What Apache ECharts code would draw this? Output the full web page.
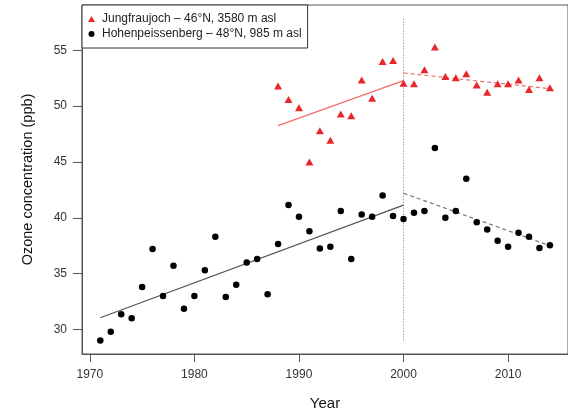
<!DOCTYPE html>
<html>
<head>
<meta charset="utf-8">
<script src="https://cdn.jsdelivr.net/npm/echarts@6/dist/echarts.min.js"></script>
<style>html,body{margin:0;padding:0;background:#fff}#c{width:568px;height:416px}</style>
</head>
<body>
<div id="c"></div>
<script>
// Hohenpeissenberg (black circles)
var hpYears = [1971,1972,1973,1974,1975,1976,1977,1978,1979,1980,
               1981,1982,1983,1984,1985,1986,1987,1988,1989,1990,
               1991,1992,1993,1994,1995,1996,1997,1998,1999,2000,
               2001,2002,2003,2004,2005,2006,2007,2008,2009,2010,
               2011,2012,2013,2014];
var hpValues = [29.0,29.8,31.35,31.0,33.8,37.2,33.0,35.7,31.85,33.0,
                35.3,38.3,32.9,34.0,36.0,36.3,33.15,37.65,41.15,40.1,
                38.8,37.25,37.4,40.6,36.3,40.3,40.1,42.0,40.15,39.9,
                40.45,40.6,46.25,40.0,40.6,43.5,39.6,38.95,37.95,37.4,
                38.65,38.3,37.3,37.55];
// Jungfraujoch (red triangles)
var jfYears = [1988,1989,1990,1991,1992,1993,1994,1995,1996,1997,
               1998,1999,2000,2001,2002,2003,2004,2005,2006,2007,
               2008,2009,2010,2011,2012,2013,2014];
var jfValues = [51.8,50.6,49.85,45.0,47.8,46.95,49.3,49.15,52.35,50.7,
                54.0,54.1,52.05,52.0,53.25,55.3,52.65,52.55,52.9,51.9,
                51.25,52.0,52.0,52.35,51.5,52.55,51.65];
// trend lines (endpoints)
var hpTrendPre  = [[1971,31.05],[2000,41.14]];
var hpTrendPost = [[2000,42.2],[2014,37.5]];
var jfTrendPre  = [[1988,48.26],[2000,52.29]];
var jfTrendPost = [[2000,52.97],[2014,51.56]];
var breakLine   = [[2000,29],[2000,58]];
// ticks
var xTicks = [1970,1980,1990,2000,2010];
var yTicks = [30,35,40,45,50,55];
var names = ['Jungfraujoch \u2013 46\u00b0N, 3580 m asl','Hohenpeissenberg \u2013 48\u00b0N, 985 m asl'];

function zip(a,b){var r=[];for(var i=0;i<a.length;i++)r.push([a[i],b[i]]);return r;}

var FONT = 'Liberation Sans, Arial, Helvetica, sans-serif';
var chart = echarts.init(document.getElementById('c'), null, {renderer:'canvas'});
chart.setOption({
  animation:false,
  backgroundColor:'#fff',
  grid:{left:82, top:5, right:-9, bottom:57, show:true, borderColor:'#555', borderWidth:1, backgroundColor:'transparent'},
  legend:{
    orient:'vertical', left:82, top:5,
    padding:[8,6,8,6], itemGap:3, itemWidth:7, itemHeight:6,
    borderColor:'#333', borderWidth:1, backgroundColor:'#fff', borderRadius:0,
    textStyle:{fontFamily:FONT, fontSize:12, color:'#222', padding:[0,0,0,2]},
    data:[{name:names[0], icon:'triangle'},{name:names[1], icon:'circle'}]
  },
  xAxis:{
    type:'value', min:1969.25, max:2015.73,
    name:'Year', nameLocation:'middle', nameGap:42,
    nameTextStyle:{fontFamily:FONT, fontSize:15, color:'#111'},
    axisLine:{show:true, onZero:false, lineStyle:{color:'#555', width:1}},
    axisTick:{show:true, inside:false, length:8, lineStyle:{color:'#555'}, customValues:xTicks},
    axisLabel:{fontFamily:FONT, fontSize:12, color:'#333', margin:15, customValues:xTicks,
               formatter:function(v){return String(v);}},
    splitLine:{show:false}
  },
  yAxis:{
    type:'value', min:27.8, max:59.06,
    name:'Ozone concentration (ppb)', nameLocation:'middle', nameGap:47,
    nameTextStyle:{fontFamily:FONT, fontSize:14.5, color:'#111'},
    axisLine:{show:true, onZero:false, lineStyle:{color:'#555', width:1}},
    axisTick:{show:true, inside:false, length:9, lineStyle:{color:'#555'}, customValues:yTicks},
    axisLabel:{fontFamily:FONT, fontSize:12, color:'#333', margin:15, customValues:yTicks,
               formatter:function(v){return String(v);}},
    splitLine:{show:false}
  },
  series:[
    {type:'line', data:breakLine, symbol:'none', silent:true,
     lineStyle:{color:'#777', width:1, type:[1,2]}, z:1},
    {type:'line', data:hpTrendPre, symbol:'none', lineStyle:{color:'#555', width:1.2}, z:2},
    {type:'line', data:hpTrendPost, symbol:'none', lineStyle:{color:'#777', width:1.2, type:[4,3]}, z:2},
    {type:'line', data:jfTrendPre, symbol:'none', lineStyle:{color:'#f26a6a', width:1.2}, z:2},
    {type:'line', data:jfTrendPost, symbol:'none', lineStyle:{color:'#f26a6a', width:1.2, type:[4,3]}, z:2},
    {name:names[0], type:'scatter', data:zip(jfYears,jfValues), symbol:'triangle', symbolSize:[8,7],
     itemStyle:{color:'#e8262b', opacity:1}, z:3},
    {name:names[1], type:'scatter', data:zip(hpYears,hpValues), symbol:'circle', symbolSize:6.5,
     itemStyle:{color:'#000', opacity:1}, z:3}
  ]
});
</script>
</body>
</html>
